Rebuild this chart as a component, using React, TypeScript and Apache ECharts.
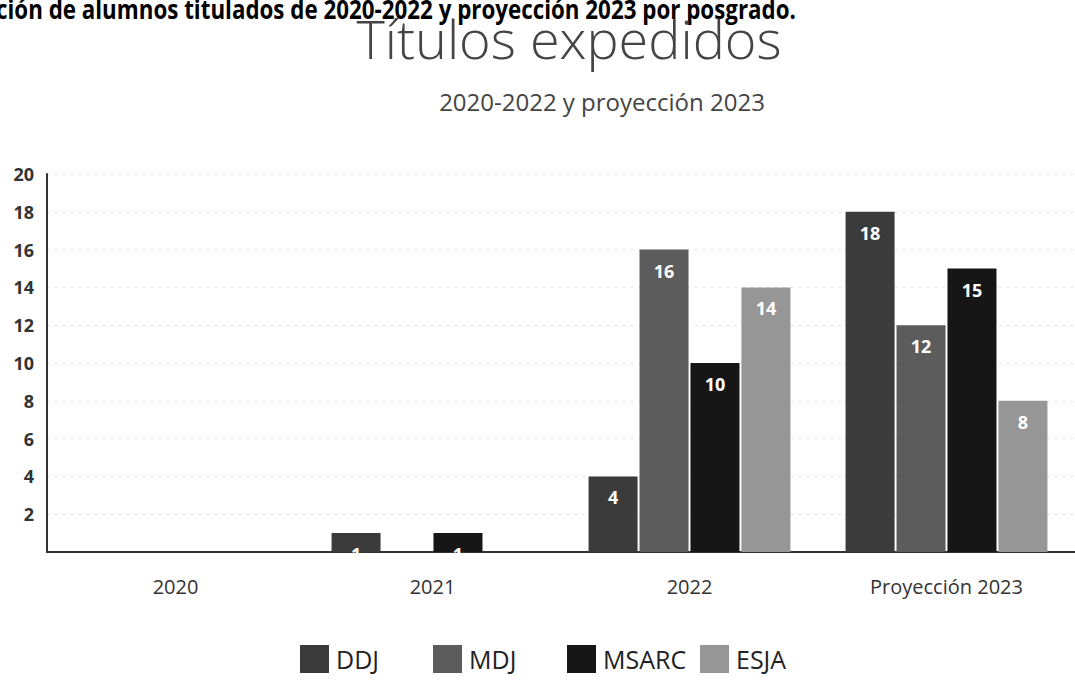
import React, { useEffect, useRef } from "react";
import * as echarts from "echarts";

const categories = ["2020", "2021", "2022", "Proyección 2023"];
const seriesNames = ["DDJ", "MDJ", "MSARC", "ESJA"];
const ddj = [0, 1, 4, 18];
const mdj = [0, 0, 16, 12];
const msarc = [0, 1, 10, 15];
const esja = [0, 0, 14, 8];
const colors = ["#3b3b3b", "#5c5c5c", "#161616", "#969696"];

const topText = "ción de alumnos titulados de 2020-2022 y proyección 2023 por posgrado.";
const titleText = "Títulos expedidos";
const subtitleText = "2020-2022 y proyección 2023";

export default function App() {
  const ref = useRef<HTMLDivElement>(null);
  useEffect(() => {
    if (!ref.current) return;
    const chart = echarts.init(ref.current, undefined, { renderer: "svg" });
    const values = [ddj, mdj, msarc, esja];
    const legendLefts = [300, 433, 567, 700];
    chart.setOption({
      animation: false,
      backgroundColor: "#ffffff",
      textStyle: { fontFamily: "Open Sans" },
      graphic: [
        {
          type: "text",
          x: -4,
          y: -4,
          scaleX: 0.86,
          style: { text: topText, fontSize: 26, fontWeight: "bold", fill: "#000", fontFamily: "Open Sans", verticalAlign: "top" },
        },
        {
          type: "text",
          x: 569,
          y: 11,
          style: { text: titleText, fontSize: 54, fontWeight: 300, fill: "#444", fontFamily: "Open Sans", align: "center", verticalAlign: "top" },
        },
        {
          type: "text",
          x: 602,
          y: 89,
          style: { text: subtitleText, fontSize: 24, fill: "#444", fontFamily: "Open Sans", align: "center", verticalAlign: "top" },
        },
      ],
      legend: seriesNames.map((n, i) => ({
        data: [n],
        left: legendLefts[i],
        top: 645,
        padding: 0,
        itemWidth: 29,
        itemHeight: 28,
        itemGap: 0,
        icon: "rect",
        textStyle: { fontSize: 25, color: "#222", fontFamily: "Open Sans", padding: [0, 0, 0, 2] },
      })),
      grid: { left: 47, right: 0, top: 174, bottom: 129, containLabel: false },
      xAxis: {
        type: "category",
        data: categories,
        axisLine: { lineStyle: { color: "#333", width: 2 } },
        axisTick: { show: false },
        axisLabel: { fontSize: 20, color: "#333", margin: 24 },
      },
      yAxis: {
        type: "value",
        min: 0,
        max: 20,
        interval: 2,
        axisLine: { show: true, lineStyle: { color: "#333", width: 2 } },
        axisTick: { show: false },
        axisLabel: {
          fontSize: 18,
          fontWeight: "bold",
          color: "#333",
          margin: 13,
          formatter: (v: number) => (v === 0 ? "" : String(v)),
        },
        splitLine: { show: true, lineStyle: { color: "#dddddd", type: [2, 6] } },
      },
      series: seriesNames.map((n, i) => ({
        name: n,
        type: "bar",
        data: values[i],
        barWidth: 49,
        barGap: "4%",
        itemStyle: { color: colors[i] },
        label: {
          show: true,
          position: "insideTop",
          distance: 12,
          color: "#fff",
          fontWeight: "bold",
          fontSize: 18,
          formatter: (p: any) => (p.value ? String(p.value) : ""),
        },
      })),
    });
    return () => chart.dispose();
  }, []);
  return <div ref={ref} style={{ width: 1075, height: 681, position: "fixed", left: 0, top: 0 }} />;
}
